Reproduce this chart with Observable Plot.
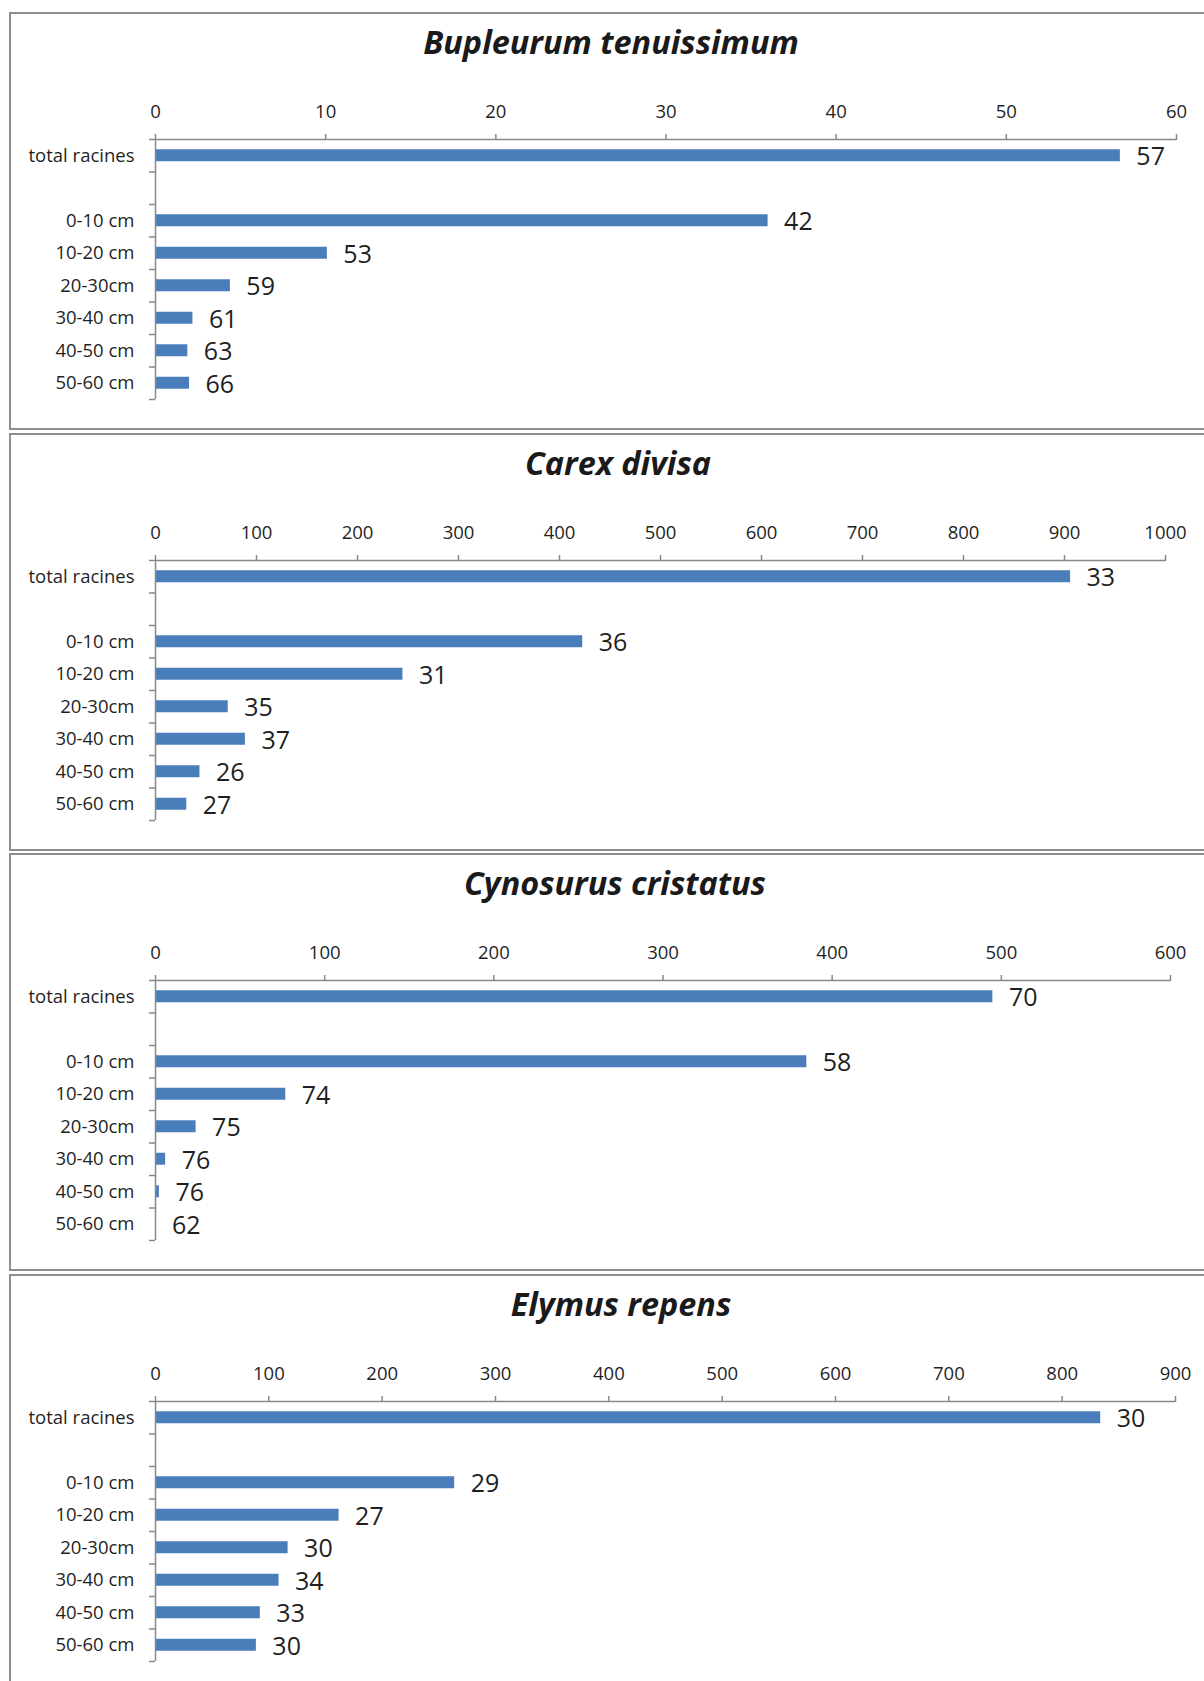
<!DOCTYPE html>
<html>
<head>
<meta charset="utf-8">
<script src="https://cdn.jsdelivr.net/npm/d3@7"></script>
<script src="https://cdn.jsdelivr.net/npm/@observablehq/plot@0.6"></script>
<style>
  html, body { margin: 0; padding: 0; background: #fff; }
  body { width: 1204px; height: 1681px; overflow: hidden; position: relative; }
  .panel {
    position: absolute; left: 9px; width: 1204px; height: 418px;
    box-sizing: border-box; border: 2px solid #8d8d8d; background: #fff;
  }
  .panel h2 {
    position: absolute; top: 5px; left: 0; width: 100%; margin: 0;
    line-height: 40px; text-align: center;
    font: italic 700 32.4px "Open Sans", sans-serif; color: #1a1a1a;
  }
  .panel svg { position: absolute; left: 0; top: 0; }
</style>
</head>
<body>
<script>
// Root length by depth layer, one chart per species
const categories = ["total racines", "", "0-10 cm", "10-20 cm", "20-30cm", "30-40 cm", "40-50 cm", "50-60 cm"];
const species = ["Bupleurum tenuissimum", "Carex divisa", "Cynosurus cristatus", "Elymus repens"];

const bupleurumValues = [56.7, null, 36.0, 10.1, 4.4, 2.2, 1.9, 2.0];
const bupleurumLabels = [57, null, 42, 53, 59, 61, 63, 66];

const carexValues = [906, null, 423, 245, 72, 89, 44, 31];
const carexLabels = [33, null, 36, 31, 35, 37, 26, 27];

const cynosurusValues = [495, null, 385, 77, 24, 6, 2.3, 0.3];
const cynosurusLabels = [70, null, 58, 74, 75, 76, 76, 62];

const elymusValues = [834, null, 264, 162, 117, 109, 92.5, 89];
const elymusLabels = [30, null, 29, 27, 30, 34, 33, 30];

const axisMax = [60, 1000, 600, 900];
const tickStep = [10, 100, 100, 100];

const allValues = [bupleurumValues, carexValues, cynosurusValues, elymusValues];
const allLabels = [bupleurumLabels, carexLabels, cynosurusLabels, elymusLabels];

// layout
const marginRights = [25, 36, 31, 26];
const titleShift = [0, 7, 4, 10];
const gray = "#898989";
const ink = "#1f1f1f";

species.forEach((name, k) => {
  const panel = document.createElement("div");
  panel.className = "panel";
  panel.style.top = Math.round(12 + k * 420.7) + "px";

  const title = document.createElement("h2");
  title.textContent = name;
  title.style.transform = `translateX(${titleShift[k]}px)`;
  panel.appendChild(title);

  const rows = categories
    .map((category, i) => ({category, slot: i, value: allValues[k][i], label: allLabels[k][i]}))
    .filter(d => d.value != null);

  const ticks = d3.range(0, axisMax[k] + tickStep[k] / 2, tickStep[k]);

  const chart = Plot.plot({
    width: 1190,
    height: 400,
    marginTop: 125,
    marginBottom: 15,
    marginLeft: 144,
    marginRight: marginRights[k],
    style: {fontFamily: "'Open Sans', sans-serif", background: "transparent", color: ink, overflow: "visible"},
    x: {domain: [0, axisMax[k]], label: null},
    y: {domain: [categories.length, 0], label: null},
    marks: [
      Plot.rect(rows, {
        x1: () => 0, x2: "value",
        y1: "slot", y2: d => d.slot + 1,
        insetTop: 10.25, insetBottom: 10.25,
        fill: "#4a7ebb"
      }),
      Plot.ruleY([0], {stroke: gray, strokeWidth: 1.5}),
      Plot.ruleX([0], {stroke: gray, strokeWidth: 1.5}),
      Plot.axisX({
        anchor: "top", ticks, tickSize: 6, tickPadding: 16,
        tickFormat: d3.format("d"), fontSize: 18.5,
        stroke: gray, strokeWidth: 1.5, fill: ink, label: null
      }),
      Plot.axisY({
        anchor: "left", ticks: d3.range(0, categories.length + 1),
        tickSize: 6, stroke: gray, strokeWidth: 1.5, fill: "none", label: null
      }),
      Plot.axisY({
        anchor: "left", ticks: categories.map((c, i) => i + 0.5),
        tickSize: 0, tickPadding: 21,
        tickFormat: t => categories[Math.floor(t)],
        fontSize: 18.5, fill: ink, label: null
      }),
      Plot.text(rows, {
        x: "value", y: d => d.slot + 0.5,
        text: d => String(d.label),
        dx: 16, dy: 1.5, textAnchor: "start", fontSize: 25, fill: ink
      })
    ]
  });

  panel.appendChild(chart);
  document.body.appendChild(panel);
});
</script>
</body>
</html>
